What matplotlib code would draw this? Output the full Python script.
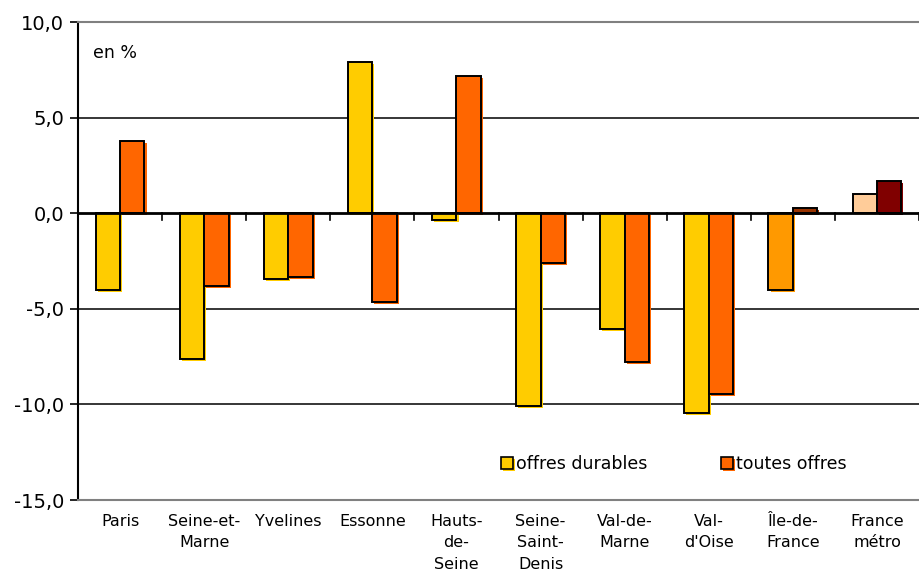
import matplotlib
matplotlib.use("Agg")
import matplotlib.pyplot as plt
import matplotlib.patheffects as pe
from matplotlib.patches import Rectangle

departements = ["Paris", "Seine-et-\nMarne", "Yvelines", "Essonne", "Hauts-\nde-\nSeine",
                "Seine-\nSaint-\nDenis", "Val-de-\nMarne", "Val-\nd'Oise", "Île-de-\nFrance", "France\nmétro"]
offres_durables = [-4.0, -7.6, -3.45, 7.9, -0.35, -10.1, -6.05, -10.45, -4.0, 1.0]
toutes_offres = [3.8, -3.8, -3.35, -4.65, 7.2, -2.6, -7.8, -9.45, 0.26, 1.7]

col_dur = ["#FFCC00"] * 8 + ["#FF9900", "#FFCC99"]
col_tout = ["#FF6600"] * 8 + ["#993300", "#800000"]

plt.rcParams["font.family"] = "DejaVu Sans"

fig = plt.figure(figsize=(9.19, 5.79), dpi=100)
ax = fig.add_axes([78/919, 79/579, 841/919, 478/579])

w = 0.29
x = list(range(len(departements)))

def shadow(c):
    return [pe.SimplePatchShadow(offset=(1.5, -1.5), shadow_rgbFace=c, alpha=1), pe.Normal()]

for i in x:
    b1 = ax.bar(i - w/2, offres_durables[i], w, color=col_dur[i], edgecolor="black", linewidth=1.4, zorder=3)
    b1[0].set_path_effects(shadow(col_dur[i]))
    b2 = ax.bar(i + w/2, toutes_offres[i], w, color=col_tout[i], edgecolor="black", linewidth=1.4, zorder=3)
    b2[0].set_path_effects(shadow(col_tout[i]))

ax.set_xlim(-0.5, 9.5)
ax.set_ylim(-15, 10)
ax.set_yticks([10, 5, 0, -5, -10, -15])
ax.set_yticklabels(["10,0", "5,0", "0,0", "-5,0", "-10,0", "-15,0"], fontsize=14)
ax.tick_params(axis="y", length=6, width=1.2, direction="out", pad=4)

ax.set_xticks(x)
ax.set_xticklabels(departements, fontsize=11.5, linespacing=1.55)
ax.tick_params(axis="x", length=0, pad=10)

for y in [5, -5, -10]:
    ax.axhline(y, color="black", lw=1.1, zorder=1)
ax.axhline(0, color="black", lw=2, zorder=4)

# small ticks at category boundaries on the zero line
for b in range(len(departements) + 1):
    ax.plot([b - 0.5, b - 0.5], [0, -0.35], color="black", lw=1.2, zorder=2)

ax.spines["right"].set_visible(False)
ax.spines["top"].set_color("#808080")
ax.spines["top"].set_linewidth(1.5)
ax.spines["bottom"].set_color("#808080")
ax.spines["bottom"].set_linewidth(1.5)
ax.spines["left"].set_linewidth(1.5)

ax.text(0.018, 0.935, "en %", transform=ax.transAxes, fontsize=12.5, va="center")

handles = [Rectangle((0, 0), 1, 1, facecolor="#FFCC00", edgecolor="black", linewidth=1.2),
           Rectangle((0, 0), 1, 1, facecolor="#FF6600", edgecolor="black", linewidth=1.2)]
for h in handles:
    h.set_path_effects(shadow(h.get_facecolor()))
ax.legend(handles, ["offres durables", "toutes offres"], ncol=2, frameon=False, fontsize=12.5,
          loc="center left", bbox_to_anchor=(0.484, 0.076), handlelength=0.7, handleheight=0.7,
          handletextpad=0.2, columnspacing=4.2)

fig.savefig("out.png", dpi=100)
